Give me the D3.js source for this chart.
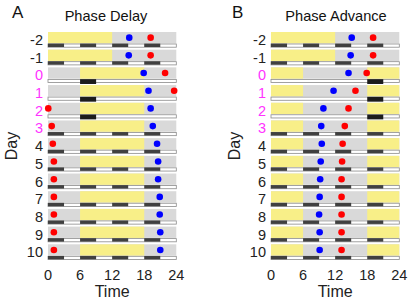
<!DOCTYPE html>
<html>
<head>
<meta charset="utf-8">
<script src="https://cdn.jsdelivr.net/npm/d3@7"></script>
<style>
  body { margin: 0; background: #fff; }
  svg text { font-family: "Liberation Sans", Arial, sans-serif; }
</style>
</head>
<body>
<div id="chart"></div>
<script>
// Data
const days = [-2, -1, 0, 1, 2, 3, 4, 5, 6, 7, 8, 9, 10];
const highlightDays = [0, 1, 2, 3];
const timeTicks = [0, 6, 12, 18, 24];

// Phase delay: onset (blue) and offset (red) times, hours
const delayBlue = [15.2, 15.1, 17.9, 18.8, 19.2, 19.6, 20.4, 20.6, 20.6, 20.9, 20.9, 21.0, 21.0];
const delayRed  = [19.2, 19.2, 21.9, 23.6, 0.05, 0.7, 0.9, 1.1, 1.1, 1.1, 1.1, 1.1, 1.1];
// Phase advance
const advanceBlue = [15.1, 14.9, 14.5, 11.7, 9.8, 9.4, 9.5, 9.3, 9.2, 9.1, 9.0, 9.1, 9.1];
const advanceRed  = [19.1, 19.1, 17.9, 15.8, 14.5, 13.8, 13.4, 13.3, 13.2, 13.2, 13.2, 13.2, 13.2];

// Light periods (yellow) per day
const baselineLight = [[0, 12]];
const delayLight = [[6, 18]];
const advanceLight = [[0, 6], [18, 24]];

// Feeding strip segments
const normalFeed = [[0, 3], [6, 9], [12, 15], [18, 21]];
const delayFeed = [[6, 9]];
const advanceFeed = [[18, 21]];
const shiftDays = [0, 1, 2];

const width = 415;
const height = 302;

const svg = d3.select("#chart")
    .append("svg")
    .attr("width", width)
    .attr("height", height);

const y = d3.scaleBand()
    .domain(days)
    .range([32, 262])
    .paddingInner(0);

const barH = 11.3;

const panels = [
    { letter: "A", title: "Phase Delay", x0: 48, titleX: 106, letterX: 12,
      blue: delayBlue, red: delayRed, light: delayLight, feed: delayFeed },
    { letter: "B", title: "Phase Advance", x0: 271, titleX: 336, letterX: 232,
      blue: advanceBlue, red: advanceRed, light: advanceLight, feed: advanceFeed }
];

panels.forEach(p => {
    const x = d3.scaleLinear().domain([0, 24]).range([p.x0, p.x0 + 128.3]);
    const g = svg.append("g");

    days.forEach((d, i) => {
        const top = y(d);
        const light = d < 0 ? baselineLight : p.light;
        const shifted = shiftDays.includes(d);

        // gray background (dark period)
        g.append("rect")
            .attr("x", x(0)).attr("y", top)
            .attr("width", x(24) - x(0)).attr("height", barH)
            .attr("fill", "#d9d9d9");

        g.selectAll(null)
            .data(light)
            .enter()
            .append("rect")
            .attr("x", l => x(l[0]))
            .attr("y", top)
            .attr("width", l => x(l[1]) - x(l[0]))
            .attr("height", barH)
            .attr("fill", "#f8ef88");

        // feeding strip
        g.append("rect")
            .attr("x", x(0)).attr("y", top + 12)
            .attr("width", x(24) - x(0)).attr("height", 3.2)
            .attr("fill", "#fff")
            .attr("stroke", "#8a8a8a")
            .attr("stroke-width", 0.8);

        if (shifted) {
            g.selectAll(null)
                .data(p.feed)
                .enter()
                .append("rect")
                .attr("x", f => x(f[0]))
                .attr("y", top + 11.8)
                .attr("width", f => x(f[1]) - x(f[0]))
                .attr("height", 4.8)
                .attr("fill", "#1c1c1c");
        } else {
            g.selectAll(null)
                .data(normalFeed)
                .enter()
                .append("rect")
                .attr("x", f => x(f[0]))
                .attr("y", top + 11.6)
                .attr("width", f => x(f[1]) - x(f[0]))
                .attr("height", 3.4)
                .attr("fill", "#404040");
        }

        // dots
        g.append("circle")
            .attr("cx", x(p.blue[i])).attr("cy", top + barH / 2)
            .attr("r", 3.3).attr("fill", "#0000ff");
        g.append("circle")
            .attr("cx", x(p.red[i])).attr("cy", top + barH / 2)
            .attr("r", 3.3).attr("fill", "#ff0000");

        // day label
        g.append("text")
            .attr("x", p.x0 - 5)
            .attr("y", top + 13)
            .attr("text-anchor", "end")
            .style("font-size", "14.5px")
            .attr("fill", highlightDays.includes(d) ? "#ff33ff" : "#222")
            .text(d);
    });

    // x tick labels
    g.selectAll(null)
        .data(timeTicks)
        .enter()
        .append("text")
        .attr("x", t => x(t))
        .attr("y", 280)
        .attr("text-anchor", "middle")
        .style("font-size", "14.5px")
        .attr("fill", "#222")
        .text(t => t);

    // axis labels
    g.append("text")
        .attr("x", x(12))
        .attr("y", 297)
        .attr("text-anchor", "middle")
        .style("font-size", "16px")
        .attr("fill", "#222")
        .text("Time");

    g.append("text")
        .attr("transform", `translate(${p.x0 - 31}, 146) rotate(-90)`)
        .attr("text-anchor", "middle")
        .style("font-size", "16px")
        .attr("fill", "#222")
        .text("Day");

    // title and panel letter
    g.append("text")
        .attr("x", p.titleX)
        .attr("y", 20.5)
        .attr("text-anchor", "middle")
        .style("font-size", "14.6px")
        .attr("fill", "#111")
        .text(p.title);

    g.append("text")
        .attr("x", p.letterX)
        .attr("y", 17.5)
        .style("font-size", "17px")
        .attr("fill", "#111")
        .text(p.letter);
});
</script>
</body>
</html>
